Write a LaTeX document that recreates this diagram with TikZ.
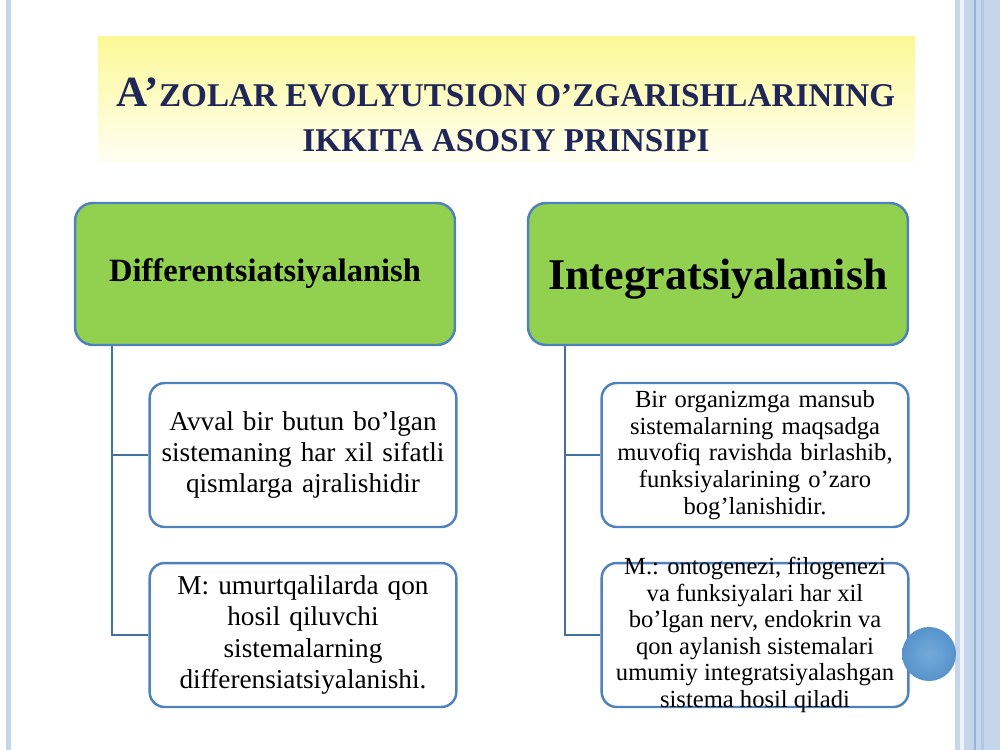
\documentclass[tikz,border=0pt]{standalone}
\usepackage{fontspec}
\setmainfont{Liberation Serif}
\definecolor{boxblue}{RGB}{79,129,189}
\definecolor{linkblue}{RGB}{65,113,156}
\definecolor{leafgreen}{RGB}{146,208,80}
\definecolor{titlenavy}{RGB}{32,38,88}
\definecolor{bandyellow}{RGB}{251,249,150}
\definecolor{stripeblue}{RGB}{197,213,234}
\definecolor{dotblue}{RGB}{91,155,213}
\begin{document}
\begin{tikzpicture}[x=0.02cm,y=-0.02cm,
  headbox/.style={draw=boxblue,line width=1.4pt,fill=leafgreen,rounded corners=0.36cm,
    minimum width=7.6cm,minimum height=2.84cm,align=center},
  textbox/.style={draw=boxblue,line width=1.4pt,fill=white,rounded corners=0.3cm,
    minimum width=6.06cm,minimum height=2.88cm,align=center,text width=5.9cm},
  link/.style={draw=linkblue,line width=1.3pt}]
\useasboundingbox (0,0) rectangle (1000,750);
\fill[white] (0,0) rectangle (1000,750);

% side stripes
\fill[stripeblue] (6,0) rectangle (11,750);
\fill[stripeblue] (955,0) rectangle (1000,750);
\fill[white!70!stripeblue] (960,0) rectangle (964,750);
\fill[boxblue!60] (974,0) rectangle (976,750);
\fill[stripeblue!85!boxblue] (981,0) rectangle (984,750);

% title band
\shade[top color=bandyellow,bottom color=bandyellow!12] (98,37) rectangle (915,162);
\node[anchor=base,text=titlenavy,font=\bfseries\fontsize{18.9}{22}\selectfont] (title1) at (506,107)
  {{\fontsize{24.5}{22}\selectfont A’}ZOLAR EVOLYUTSION O’ZGARISHLARINING};
\node[anchor=base,text=titlenavy,font=\bfseries\fontsize{18.9}{22}\selectfont] (title2) at (506,152)
  {IKKITA ASOSIY PRINSIPI};

% heads
\node[headbox,font=\bfseries\fontsize{18.5}{22}\selectfont] (dif) at (265,274) {Differentsiatsiyalanish};
\node[headbox,text depth=0pt,font=\bfseries\fontsize{25}{29}\selectfont] (int) at (718,274) {Integratsiyalanish};

% left column
\node[textbox,font=\fontsize{15.5}{17.5}\selectfont] (dif1) at (303,455)
  {Avval bir butun bo’lgan\\ sistemaning har xil sifatli\\ qismlarga ajralishidir};
\node[textbox,font=\fontsize{15.5}{17.8}\selectfont] (dif2) at (303,635)
  {M: umurtqalilarda qon\\ hosil qiluvchi\\ sistemalarning\\ differensiatsiyalanishi.};

% right column
\node[textbox,font=\fontsize{14}{15.2}\selectfont] (int1) at (755,455)
  {Bir organizmga mansub\\ sistemalarning maqsadga\\ muvofiq ravishda birlashib,\\ funksiyalarining o’zaro\\ bog’lanishidir.};
\node[textbox] (int2) at (755,635) {};
\node[align=center,font=\fontsize{14}{15.1}\selectfont] (int2txt) at (int2.center)
  {M.: ontogenezi, filogenezi\\ va funksiyalari har xil\\ bo’lgan nerv, endokrin va\\ qon aylanish sistemalari\\ umumiy integratsiyalashgan\\ sistema hosil qiladi};

\draw[link] ([xshift=0.76cm]dif.south west) |- (dif1.west);
\draw[link] ([xshift=0.76cm]dif.south west) |- (dif2.west);
\draw[link] ([xshift=0.76cm]int.south west) |- (int1.west);
\draw[link] ([xshift=0.76cm]int.south west) |- (int2.west);

\shade[inner color=dotblue!85!white,outer color=dotblue!95!black] (929,654) circle (0.54cm);
\end{tikzpicture}
\end{document}
